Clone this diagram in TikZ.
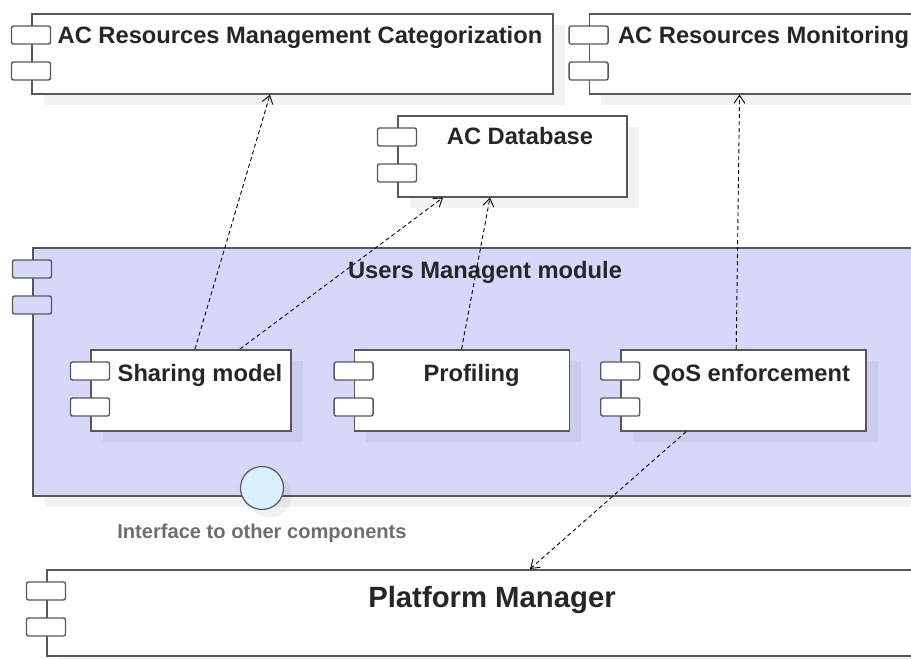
\documentclass[tikz,border=0pt]{standalone}
\usepackage{fontspec}
\setmainfont{Liberation Sans}
\usetikzlibrary{arrows.meta,positioning,calc,shadows}

\definecolor{modfill}{RGB}{215,215,250}
\definecolor{ifill}{RGB}{218,240,255}
\definecolor{edgegray}{RGB}{88,88,88}
\definecolor{notegray}{RGB}{110,110,110}

\begin{document}
\begin{tikzpicture}[x=1pt, y=-1pt, every node/.style={font=\bfseries\fontsize{23.7}{28}\selectfont}]

\tikzstyle{comp} = [rectangle, draw=edgegray, line width=1.6pt, fill=white, anchor=north west, inner sep=0pt, drop shadow={shadow xshift=12pt, shadow yshift=-11pt, fill=black, opacity=0.05}]
\tikzstyle{port} = [rectangle, draw=edgegray, line width=1.4pt, rounded corners=2pt, minimum width=39pt, minimum height=18pt, inner sep=0pt]
\tikzstyle{title} = [anchor=base, inner sep=0pt, text=black!85]
\tikzstyle{iface} = [circle, draw=edgegray, line width=1.2pt, fill=ifill, minimum size=43pt, inner sep=0pt, drop shadow={shadow xshift=8pt, shadow yshift=-8pt, fill=black, opacity=0.05}]
\tikzstyle{note} = [inner sep=0pt, text=notegray, font=\bfseries\fontsize{20.1}{24}\selectfont]
\tikzstyle{dep} = [line width=0.9pt, dash pattern=on 4pt off 3pt, -{Straight Barb[length=8pt, width=11pt]}]

\useasboundingbox (0,0) rectangle (911,659);
\clip (0,0) rectangle (911,659);

% Module
\node[comp, fill=modfill, minimum width=895pt, minimum height=248pt] (um) at (32,247) {};

% Top row
\node[comp, minimum width=521pt, minimum height=80pt] (cat) at (31,13) {};
\node[comp, minimum width=343pt, minimum height=80pt, right=35pt of cat] (mon) {};
\node[comp, minimum width=229pt, minimum height=81pt] (db) at (397,115) {};

% Inner components
\node[comp, minimum width=200pt, minimum height=81pt] (share) at (90,349) {};
\node[comp, minimum width=215pt, minimum height=81pt, right=62pt of share] (prof) {};
\node[comp, minimum width=245pt, minimum height=81pt, right=50pt of prof] (qos) {};

% Bottom
\node[comp, minimum width=880pt, minimum height=86pt] (pm) at (46,569) {};

% Interface
\node[iface] (iface) at (262,488) {};
\node[note, below=14pt of iface] (ilabel) {Interface to other components};

% Component ports
\foreach \c/\f in {um/modfill, cat/white, mon/white, db/white, share/white, prof/white, qos/white, pm/white} {
  \node[port, fill=\f] at ($(\c.north west)+(0,22)$) {};
  \node[port, fill=\f] at ($(\c.north west)+(0,58)$) {};
}

% Titles
\node[title] (catlbl) at ($(cat.north west)+(269,30)$) {AC Resources Management Categorization};
\node[title] (monlbl) at ($(mon.north west)+(175,30)$) {AC Resources Monitoring};
\node[title] (dblbl) at ($(db.north west)+(123,29)$) {AC Database};
\node[title] (umlbl) at ($(um.north west)+(453,31)$) {Users Managent module};
\node[title] (sharelbl) at ($(share.north west)+(110,32)$) {Sharing model};
\node[title] (proflbl) at ($(prof.north west)+(118,32)$) {Profiling};
\node[title] (qoslbl) at ($(qos.north west)+(131,32)$) {QoS enforcement};
\node[title, font=\bfseries\fontsize{29.3}{34}\selectfont] (pmlbl) at ($(pm.north west)+(446,38)$) {Platform Manager};

% Dependencies
\draw[dep] ($(share.north west)+(105,0)$) -- ($(cat.south west)+(239,0)$);
\draw[dep] ($(share.north west)+(150,0)$) -- ($(db.south west)+(46,0)$);
\draw[dep] ($(prof.north west)+(108,0)$) -- ($(db.south west)+(93,0)$);
\draw[dep] ($(qos.north west)+(116,0)$) -- ($(mon.south west)+(151,0)$);
\draw[dep] ($(qos.south west)+(66,0)$) -- ($(pm.north west)+(484,0)$);

\end{tikzpicture}
\end{document}
